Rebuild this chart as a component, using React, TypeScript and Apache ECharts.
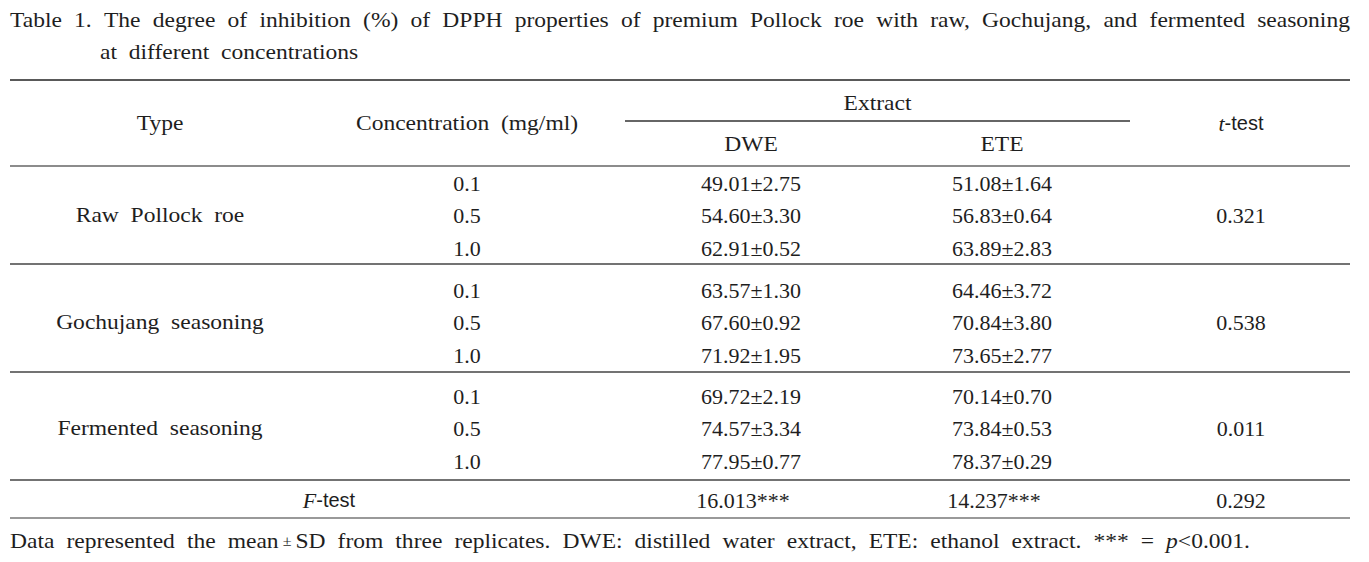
import React, { useEffect, useRef } from "react";
import * as echarts from "echarts";

// ---------- data ----------
const titleLine1 =
  "Table 1. The degree of inhibition (%) of DPPH properties of premium Pollock roe with raw, Gochujang, and fermented seasoning";
const titleLine2 = "at different concentrations";
const headerType = "Type";
const headerConc = "Concentration (mg/ml)";
const headerExtract = "Extract";
const extractNames = ["DWE", "ETE"];
const types = ["Raw Pollock roe", "Gochujang seasoning", "Fermented seasoning"];
const concentrations = ["0.1", "0.5", "1.0"];
const dweMean = [
  [49.01, 54.6, 62.91],
  [63.57, 67.6, 71.92],
  [69.72, 74.57, 77.95],
];
const dweSd = [
  [2.75, 3.3, 0.52],
  [1.3, 0.92, 1.95],
  [2.19, 3.34, 0.77],
];
const eteMean = [
  [51.08, 56.83, 63.89],
  [64.46, 70.84, 73.65],
  [70.14, 73.84, 78.37],
];
const eteSd = [
  [1.64, 0.64, 2.83],
  [3.72, 3.8, 2.77],
  [0.7, 0.53, 0.29],
];
const tTest = ["0.321", "0.538", "0.011"];
const fTestLabel = "F";
const fTest = ["16.013***", "14.237***", "0.292"];
const footnoteWords = [
  "Data", "represented", "the", "mean ± SD", "from", "three", "replicates.",
  "DWE:", "distilled", "water", "extract,", "ETE:", "ethanol", "extract.",
  "***", "=", "p<0.001.",
];

// ---------- layout ----------
const W = 1369;
const H = 562;
const X0 = 10;
const X1 = 1350;
const SERIF = '"Liberation Serif", "DejaVu Serif", serif';
const SANS = '"Liberation Sans", Arial, sans-serif';
const FS = 22;
const TFS = 22;
const WIDE = 1.07; // horizontal stretch for the wider original face
const colType = 160;
const colConc = 467;
const colDwe = 751;
const colEte = 1002;
const colT = 1241;
const extractL = 625;
const extractR = 1130;
const lineTop = 80;
const lineExtract = 121;
const lineHead = 166;
const groupLines = [264, 372, 480];
const lineBottom = 518;
const rowY = [
  [183, 215, 248],
  [290, 322, 355],
  [396, 428, 461],
];
const fRowY = 500;
const title1Y = 20;
const title2Y = 52;
const title2X = 100;
const footY = 541;
const footRight = 1250;
const TXT = "#1e1e1e";

function justify(
  ctx: CanvasRenderingContext2D,
  words: string[],
  left: number,
  right: number,
  y: number,
  fontSize: number
) {
  const smallFont = `${fontSize - 7}px ${SERIF}`;
  const normFont = `${fontSize}px ${SERIF}`;
  const widthOf = (w: string) => {
    if (w === "mean ± SD") {
      ctx.font = normFont;
      const a = ctx.measureText("mean").width + ctx.measureText("SD").width;
      ctx.font = smallFont;
      const b = ctx.measureText(" ± ").width;
      ctx.font = normFont;
      return (a + b) * WIDE;
    }
    ctx.font = normFont;
    return ctx.measureText(w).width * WIDE;
  };
  const widths = words.map(widthOf);
  const total = widths.reduce((a, b) => a + b, 0);
  const gap = (right - left - total) / (words.length - 1);
  const out: any[] = [];
  let x = left;
  words.forEach((w, i) => {
    let el: any;
    if (w.startsWith("p<")) {
      el = {
        type: "text",
        x,
        y,
        scaleX: WIDE,
        style: {
          text: "{i|p}{n|" + w.slice(1) + "}",
          align: "left",
          verticalAlign: "middle",
          rich: {
            i: { fontFamily: SERIF, fontSize, fontStyle: "italic", fill: TXT },
            n: { fontFamily: SERIF, fontSize, fill: TXT },
          },
        },
      };
    } else if (w === "mean ± SD") {
      el = {
        type: "text",
        x,
        y,
        scaleX: WIDE,
        style: {
          text: "{n|mean}{s| ± }{n|SD}",
          align: "left",
          verticalAlign: "middle",
          rich: {
            s: { fontFamily: SERIF, fontSize: fontSize - 7, fill: TXT },
            n: { fontFamily: SERIF, fontSize, fill: TXT },
          },
        },
      };
    } else {
      el = {
        type: "text",
        x,
        y,
        scaleX: WIDE,
        style: {
          text: w,
          fontFamily: SERIF,
          fontSize,
          fill: TXT,
          align: "left",
          verticalAlign: "middle",
        },
      };
    }
    out.push(el);
    x += widths[i] + gap;
  });
  return out;
}

function txt(text: string, x: number, y: number, sx = 1) {
  return {
    type: "text",
    x,
    y,
    scaleX: sx,
    style: {
      text,
      fontFamily: SERIF,
      fontSize: FS,
      fill: TXT,
      align: "center",
      verticalAlign: "middle",
    },
  };
}

function hline(x1: number, x2: number, y: number, stroke = "#444", lw = 1.5) {
  return {
    type: "line",
    shape: { x1, y1: y, x2, y2: y },
    style: { stroke, lineWidth: lw },
  };
}

function italicTest(letter: string, x: number, y: number) {
  return {
    type: "text",
    x,
    y,
    style: {
      text: "{i|" + letter + "}{s|-test}",
      align: "center",
      verticalAlign: "middle",
      rich: {
        i: { fontFamily: SERIF, fontSize: FS, fontStyle: "italic", fill: TXT },
        s: { fontFamily: SANS, fontSize: FS - 2, fill: TXT },
      },
    },
  };
}

const spaced = (s: string) => s.split(" ").join("\u2002");

export default function App() {
  const ref = useRef<HTMLDivElement>(null);
  useEffect(() => {
    if (!ref.current) return;
    const chart = echarts.init(ref.current, undefined, { renderer: "svg" });
    const canvas = document.createElement("canvas");
    const ctx = canvas.getContext("2d")!;

    const els: any[] = [];
    // title
    els.push(...justify(ctx, titleLine1.split(" "), X0, X1, title1Y, TFS));
    els.push({
      type: "text",
      x: title2X,
      y: title2Y,
      scaleX: WIDE,
      style: {
        text: spaced(titleLine2),
        fontFamily: SERIF,
        fontSize: TFS,
        fill: TXT,
        align: "left",
        verticalAlign: "middle",
      },
    });

    // lines
    els.push(hline(X0, X1, lineTop, "#222", 1.6));
    els.push(hline(extractL, extractR, lineExtract, "#333", 1.3));
    els.push(hline(X0, X1, lineHead, "#666", 1.6));
    groupLines.forEach((y) => els.push(hline(X0, X1, y, "#444", 1.6)));
    els.push(hline(X0, X1, lineBottom, "#777", 1.6));

    // header
    const headMid = (lineTop + lineHead) / 2;
    els.push(txt(headerType, colType, headMid, WIDE));
    els.push(txt(spaced(headerConc), colConc, headMid, WIDE));
    els.push(txt(headerExtract, (extractL + extractR) / 2, (lineTop + lineExtract) / 2 + 2, WIDE));
    els.push(txt(extractNames[0], colDwe, (lineExtract + lineHead) / 2, WIDE));
    els.push(txt(extractNames[1], colEte, (lineExtract + lineHead) / 2, WIDE));
    els.push(italicTest("t", colT, headMid));

    // body
    types.forEach((t, g) => {
      els.push(txt(spaced(t), colType, rowY[g][1], WIDE));
      els.push(txt(tTest[g], colT, rowY[g][1]));
      concentrations.forEach((c, r) => {
        const y = rowY[g][r];
        els.push(txt(c, colConc, y));
        els.push(txt(`${dweMean[g][r].toFixed(2)}±${dweSd[g][r].toFixed(2)}`, colDwe, y));
        els.push(txt(`${eteMean[g][r].toFixed(2)}±${eteSd[g][r].toFixed(2)}`, colEte, y));
      });
    });

    // F-test row
    els.push(italicTest(fTestLabel, 329, fRowY));
    els.push(txt(fTest[0], colDwe - 8, fRowY));
    els.push(txt(fTest[1], colEte - 8, fRowY));
    els.push(txt(fTest[2], colT, fRowY));

    // footnote
    els.push(...justify(ctx, footnoteWords, X0, footRight, footY, TFS));

    chart.setOption({
      animation: false,
      backgroundColor: "#ffffff",
      graphic: { elements: els },
    });
    return () => chart.dispose();
  }, []);
  return (
    <div
      ref={ref}
      style={{ position: "fixed", left: 0, top: 0, width: W, height: H, background: "#fff" }}
    />
  );
}
